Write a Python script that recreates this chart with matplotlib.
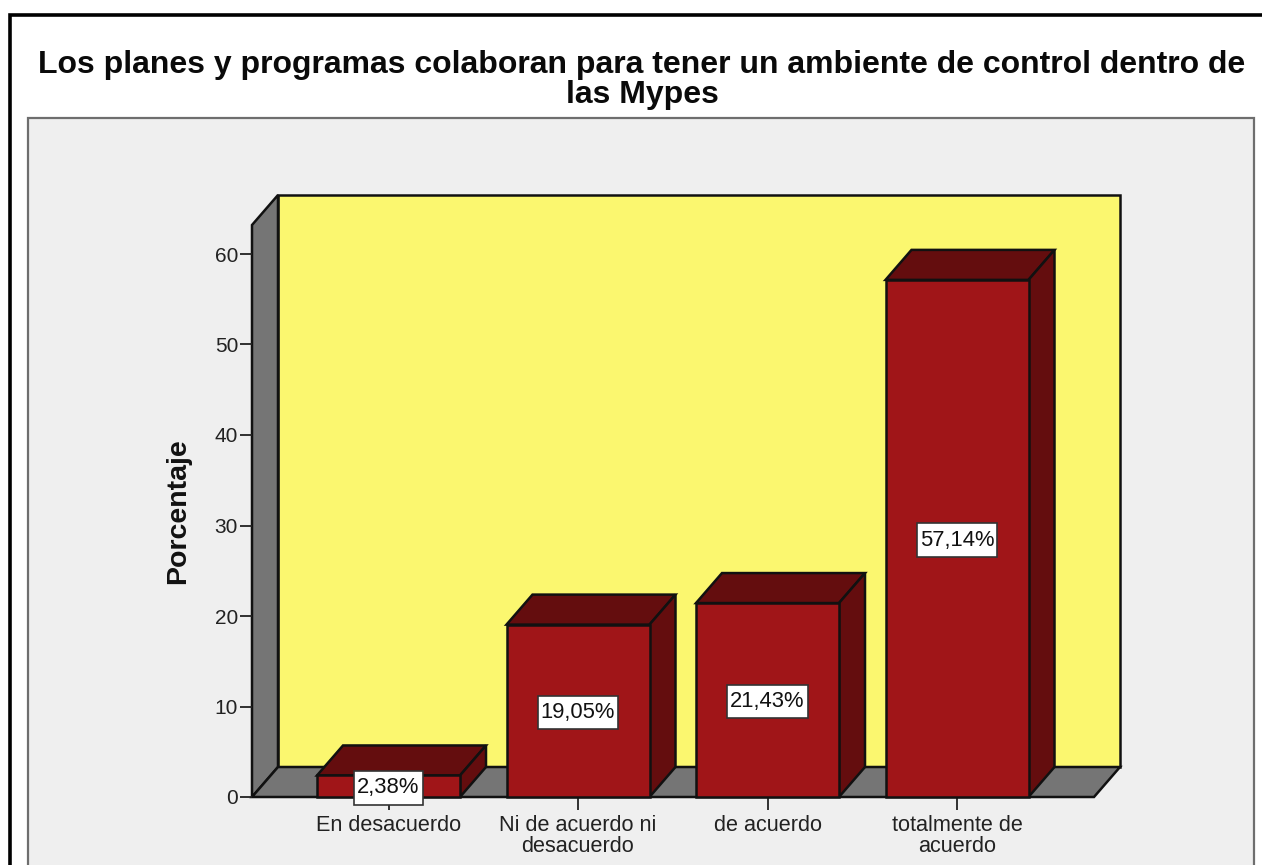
import matplotlib
matplotlib.use('Agg')
import matplotlib.pyplot as plt
from matplotlib.patches import Polygon, Rectangle

categories = ['En desacuerdo', 'Ni de acuerdo ni\ndesacuerdo', 'de acuerdo', 'totalmente de\nacuerdo']
values = [2.38, 19.05, 21.43, 57.14]
bar_labels = ['2,38%', '19,05%', '21,43%', '57,14%']
y_ticks = [0, 10, 20, 30, 40, 50, 60]
title = 'Los planes y programas colaboran para tener un ambiente de control dentro de\nlas Mypes'

W, H = 1262, 865
plt.rcParams['font.family'] = ['Liberation Sans', 'DejaVu Sans']

fig = plt.figure(figsize=(W / 100, H / 100), dpi=100, facecolor='white')

# outer frame runs off the picture on the right and at the bottom
fig.add_artist(Rectangle((9.5 / W, -0.1), 1.2, 0.1 + 1 - 15.5 / H, transform=fig.transFigure,
                         facecolor='white', edgecolor='black', linewidth=2.6, zorder=-2))
fig.add_artist(Rectangle((28 / W, -0.1), 1226 / W, 0.1 + 1 - 118 / H, transform=fig.transFigure,
                         facecolor='#EFEFEF', edgecolor='#6E6E6E', linewidth=1.6, zorder=-1))
fig.text(642 / W, 1 - 80.5 / H, title, ha='center', va='center', fontsize=23, fontweight='bold',
         linespacing=1.0, color='#0A0A0A')

ax = fig.add_axes([252 / W, 1 - 797 / H, 868 / W, 602 / H])
ax.patch.set_alpha(0)
px_x, px_y = 189.5, 9.05
ax.set_xlim((252 - 388.5) / px_x, (1120 - 388.5) / px_x)
ax.set_ylim(0, 602 / px_y)

dx, dy = 26 / px_x, 30 / px_y
bar_w = 143 / px_x
left, right = ax.get_xlim()[0], ax.get_xlim()[1] - dx
wall_top = ax.get_ylim()[1] - dy
edge = dict(edgecolor='#111111', linewidth=1.8, joinstyle='miter', clip_on=False)

ax.add_patch(Polygon([(left + dx, dy), (right + dx, dy), (right + dx, wall_top + dy), (left + dx, wall_top + dy)],
                     facecolor='#FBF76F', zorder=1, **edge))
ax.add_patch(Polygon([(left, 0), (left + dx, dy), (left + dx, wall_top + dy), (left, wall_top)],
                     facecolor='#757575', zorder=1, **edge))
ax.add_patch(Polygon([(left, 0), (right, 0), (right + dx, dy), (left + dx, dy)],
                     facecolor='#757575', zorder=1, **edge))

xs = range(len(values))
ax.bar(xs, values, width=bar_w, color='#A01518', zorder=3, clip_on=False, edgecolor='#111111', linewidth=1.8)
for x, v in zip(xs, values):
    x0, x1 = x - bar_w / 2, x + bar_w / 2
    ax.add_patch(Polygon([(x0, v), (x1, v), (x1 + dx, v + dy), (x0 + dx, v + dy)],
                         facecolor='#640D0E', zorder=2, **edge))
    ax.add_patch(Polygon([(x1, 0), (x1 + dx, dy), (x1 + dx, v + dy), (x1, v)],
                         facecolor='#640D0E', zorder=2, **edge))

for x, v, s in zip(xs, values, bar_labels):
    ax.annotate(s, (x, v / 2), xytext=(0, -1.2), textcoords='offset points', ha='center', va='center',
                fontsize=15.8, color='#111111', zorder=5,
                bbox=dict(boxstyle='square,pad=0.14', mutation_aspect=2.0, facecolor='white',
                          edgecolor='#333333', linewidth=1.2))

ax.set_xticks(list(xs), categories)
ax.set_yticks(y_ticks)
ax.tick_params(axis='y', length=9, width=1.3, color='#222222', labelsize=15, labelcolor='#222222', pad=1)
ax.tick_params(axis='x', length=9, width=1.3, color='#222222', labelsize=15.6, labelcolor='#222222', pad=4)
for lab in ax.get_xticklabels():
    lab.set_linespacing(0.98)
for s in ax.spines.values():
    s.set_visible(False)

fig.text(178 / W, 1 - 511 / H, 'Porcentaje', rotation=90, ha='center', va='center',
         fontsize=20.5, fontweight='bold', color='#111111')

fig.savefig('out.png', dpi=100)
